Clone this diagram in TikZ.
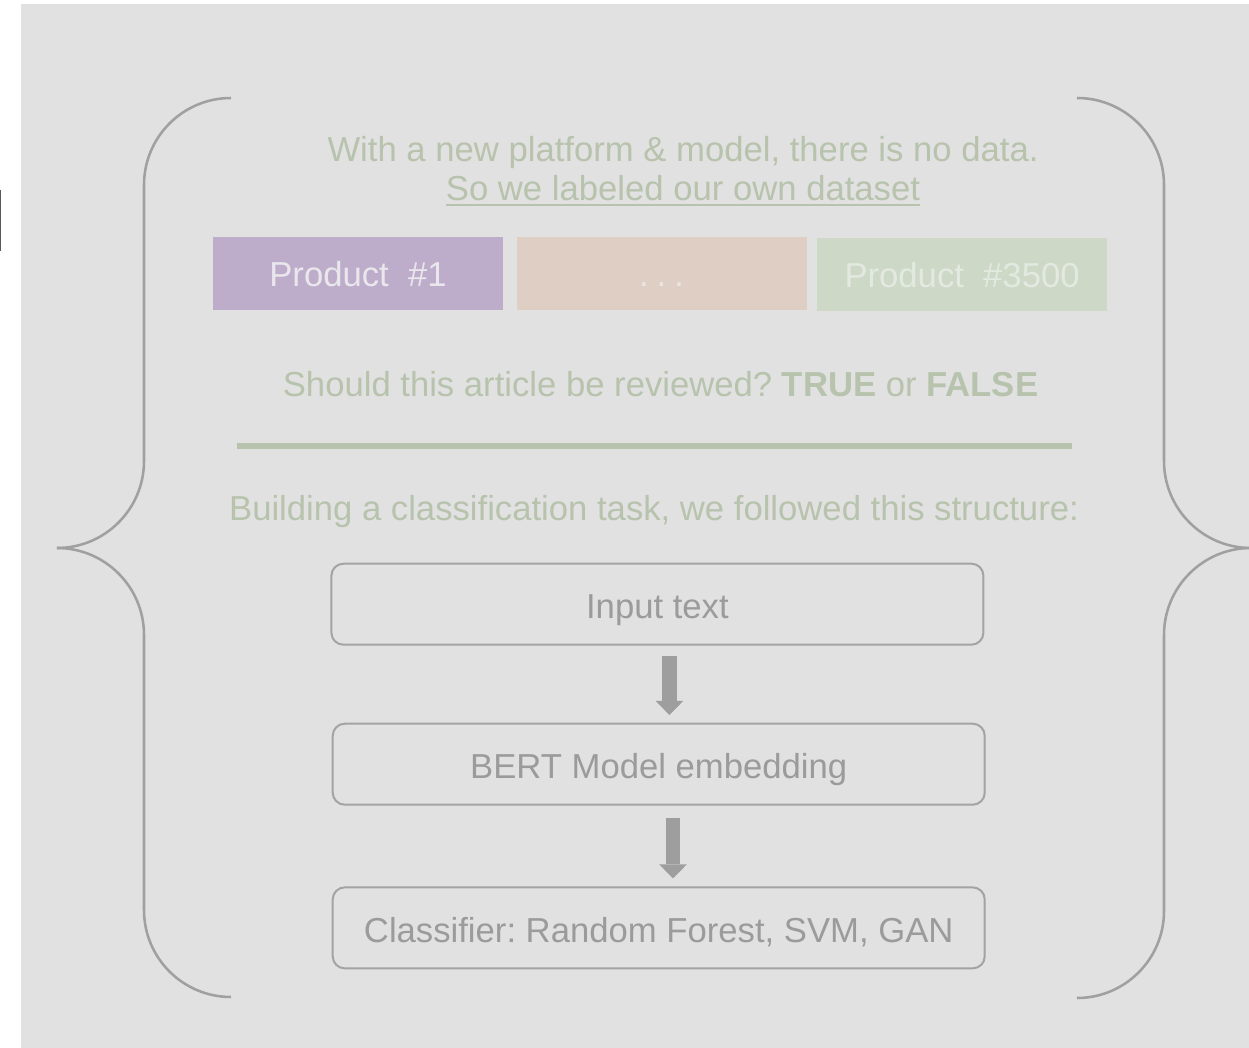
\documentclass[tikz,border=0pt]{standalone}
\usepackage{fontspec}
\setmainfont{Liberation Sans}
\usetikzlibrary{positioning, arrows.meta}
\frenchspacing
\definecolor{bggray}{RGB}{225,225,225}
\definecolor{notegreen}{RGB}{183,195,172}
\definecolor{bracegray}{RGB}{160,160,160}
\definecolor{boxgray}{RGB}{163,163,163}
\definecolor{textgray}{RGB}{155,155,155}
\definecolor{arrowgray}{RGB}{158,158,158}
\definecolor{prodpurple}{RGB}{189,173,203}
\definecolor{prodbeige}{RGB}{223,206,196}
\definecolor{prodgreen}{RGB}{205,216,199}
\definecolor{purpletext}{RGB}{233,230,236}
\definecolor{beigetext}{RGB}{236,230,226}
\definecolor{greentext}{RGB}{227,233,224}
\tikzstyle{note} = [font=\fontsize{26}{31}\selectfont, text=notegreen, inner sep=0pt, anchor=base]
\tikzstyle{product} = [rectangle, minimum width=217.5pt, minimum height=54.75pt, text height=19.5pt, text depth=0pt, font=\fontsize{26}{31}\selectfont, text centered]
\tikzstyle{stage} = [rectangle, rounded corners=9pt, minimum width=489pt, minimum height=60.75pt, text height=21.8pt, text depth=0pt, draw=boxgray, line width=1.5pt, text=textgray, font=\fontsize{26}{31}\selectfont]
\tikzstyle{brace} = [draw=bracegray, line width=1.9pt, rounded corners=65.25pt]
\tikzstyle{bigarrow} = [draw=arrowgray, line width=10.7pt, -{Triangle[width=20.75pt, length=10.5pt, line width=0pt]}]

\begin{document}
\begin{tikzpicture}[x=0.75pt, y=-0.75pt]

\useasboundingbox (0,0) rectangle (1249,1048);
\fill [white] (0,0) rectangle (1249,1048);
\fill [bggray] (21,4) rectangle (1249,1048);
\fill [black!65] (0,190) rectangle (1.2,251);

\draw [brace] (231,98) -- (144,98) -- (144,548) -- (57,548);
\draw [brace] (57,548) -- (144,548) -- (144,997) -- (231,997);
\draw [brace] (1078,98) -- (1164,98) -- (1164,548) -- (1251,548);
\draw [brace] (1251,548) -- (1164,548) -- (1164,998) -- (1078,998);

\node (intro) [note] at (683,162) {With a new platform \& model, there is no data.};
\node (own) [note] at (683,201) {So we labeled our own dataset};
\draw [notegreen, line width=2pt] ([yshift=-3pt]own.base west) -- ([yshift=-3pt]own.base east);

\node (p1) [product, fill=prodpurple, text=purpletext] at (358,273.5) {Product\ \ \#1};
\node (p2) [product, fill=prodbeige, text=beigetext, right=9.75pt of p1] {.\kern6pt.\kern6pt.};
\node (p3) [product, fill=prodgreen, text=greentext, right=7.5pt of p2, yshift=-0.75pt] {Product\ \ \#3500};

\node (ask) [note] at (660.5,396.7) {Should this article be reviewed? \textbf{TRUE} or \textbf{FALSE}};
\draw [notegreen, line width=4.5pt] (237,446) -- (1072,446);
\node (build) [note] at (654,520) {Building a classification task, we followed this structure:};

\node (input) [stage] at (657.4,604.2) {Input text};
\node (bert) [stage, below=57.75pt of input, xshift=1pt] {BERT Model embedding};
\node (clf) [stage, below=60.5pt of bert] {Classifier: Random Forest, SVM, GAN};

\draw [bigarrow, shorten <=8pt, shorten >=5.8pt] ([xshift=9pt]input.south) -- ([xshift=8pt]bert.north);
\draw [bigarrow, shorten <=9.5pt, shorten >=6pt] ([xshift=10.7pt]bert.south) -- ([xshift=10.7pt]clf.north);

\end{tikzpicture}
\end{document}
